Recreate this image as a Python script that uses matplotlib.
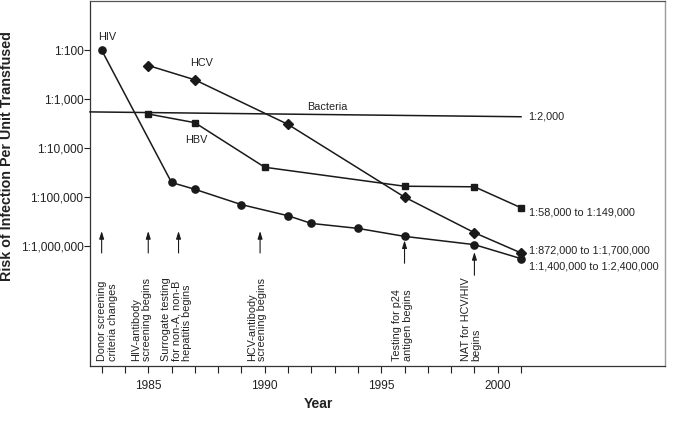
import numpy as np
import matplotlib
matplotlib.use("Agg")
import matplotlib.pyplot as plt
import matplotlib.transforms as mtransforms

plt.rcParams['font.family'] = ['Liberation Sans', 'DejaVu Sans']

# ---- data (denominator N of risk 1:N) ----
hiv_years = [1983, 1986, 1987, 1989, 1991, 1992, 1994, 1996, 1999, 2001]
hiv_risk = [100, 50800, 70000, 144000, 243000, 349000, 441000, 642000, 948000, 1830000]

hcv_years = [1985, 1987, 1991, 1996, 1999, 2001]
hcv_risk = [206, 404, 3300, 101000, 540000, 1400000]

hbv_years = [1985, 1987, 1990, 1996, 1999, 2001]
hbv_risk = [2020, 3040, 24800, 60600, 62200, 167000]

bact_years = [1982.5, 2001]
bact_risk = [1830, 2300]

ytick_vals = [100, 1000, 10000, 100000, 1000000]
ytick_labels = ['1:100', '1:1,000', '1:10,000', '1:100,000', '1:1,000,000']
xtick_years = list(range(1983, 2002))
xtick_labeled = [1985, 1990, 1995, 2000]

event_years = [1983, 1985, 1986.3, 1989.8, 1996, 1999]
event_labels = ['Donor screening\ncriteria changes',
                'HIV-antibody\nscreening begins',
                'Surrogate testing\nfor non-A, non-B\nhepatitis begins',
                'HCV-antibody\nscreening begins',
                'Testing for p24\nantigen begins',
                'NAT for HCV/HIV\nbegins']

end_labels = {'bact': '1:2,000',
              'hbv': '1:58,000 to 1:149,000',
              'hcv': '1:872,000 to 1:1,700,000',
              'hiv': '1:1,400,000 to 1:2,400,000'}

# ---- figure ----
fig = plt.figure(figsize=(6.74, 4.28), dpi=100)
ax = fig.add_axes([90/674, 62/428, 575/674, 365/428])

lc = '#1a1a1a'
lw = 1.1
ax.plot(hiv_years, hiv_risk, '-o', color=lc, lw=lw, ms=5.2, zorder=3)
ax.plot(hcv_years, hcv_risk, '-D', color=lc, lw=lw, ms=4.6, zorder=3)
ax.plot(hbv_years, hbv_risk, '-s', color=lc, lw=lw, ms=4.6, zorder=3)
ax.plot(bact_years, bact_risk, '-', color=lc, lw=lw, zorder=3, clip_on=False)

ax.set_yscale('log')
ax.set_ylim(10**8.458, 10**0.995)
ax.set_xlim(1982.5, 2007.18)
ax.set_yticks(ytick_vals)
ax.set_yticklabels(ytick_labels)
ax.yaxis.set_minor_locator(matplotlib.ticker.NullLocator())
ax.set_xticks(xtick_years)
ax.set_xticklabels([str(y) if y in xtick_labeled else '' for y in xtick_years])

tc = '#222222'
ax.tick_params(axis='y', direction='out', length=4.3, width=0.8, pad=0.5,
               labelsize=8.6, colors=tc)
ax.tick_params(axis='x', direction='out', length=5, width=0.8, pad=5,
               labelsize=8.6, colors=tc)

for s in ['left', 'bottom']:
    ax.spines[s].set_color('#333333')
    ax.spines[s].set_linewidth(0.9)
ax.spines['top'].set_color('#555555')
ax.spines['top'].set_linewidth(0.9)
ax.spines['right'].set_color('#9a9a9a')
ax.spines['right'].set_linewidth(1.0)

ax.set_xlabel('Year', fontsize=10, fontweight='bold', color=tc, va='center')
ax.xaxis.set_label_coords(0.3965, -0.104)
ax.set_ylabel('Risk of Infection Per Unit Transfused', fontsize=10.3,
              fontweight='bold', color=tc, va='center')
ax.yaxis.set_label_coords(-0.1449, 0.574)

# series names
fs_name = 7.8
ax.text(1983.24, 10**1.723, 'HIV', fontsize=fs_name, ha='center', va='center', color=tc)
ax.text(1987.30, 10**2.253, 'HCV', fontsize=fs_name, ha='center', va='center', color=tc)
ax.text(1987.08, 10**3.83, 'HBV', fontsize=fs_name, ha='center', va='center', color=tc)
ax.text(1992.70, 10**3.157, 'Bacteria', fontsize=fs_name, ha='center', va='center', color=tc)

# end labels
fs_end = 7.8
ax.annotate(end_labels['bact'], (bact_years[-1], bact_risk[-1]), xytext=(5, 0),
            textcoords='offset points', fontsize=fs_end, va='center', color=tc)
ax.annotate(end_labels['hbv'], (hbv_years[-1], hbv_risk[-1]), xytext=(6, -3.4),
            textcoords='offset points', fontsize=fs_end, va='center', color=tc)
ax.annotate(end_labels['hcv'], (hcv_years[-1], hcv_risk[-1]), xytext=(6, 2),
            textcoords='offset points', fontsize=fs_end, va='center', color=tc)
ax.annotate(end_labels['hiv'], (hiv_years[-1], hiv_risk[-1]), xytext=(6, -6),
            textcoords='offset points', fontsize=fs_end, va='center', color=tc)

# event arrows and labels
trans = mtransforms.blended_transform_factory(ax.transData, ax.transAxes)
arrow_spans = [(0.3096, 0.3697)] * 4 + [(0.2814, 0.3443), (0.2486, 0.3123)]
text_x = [1983.25, 1984.72, 1986.21, 1989.67, 1995.92, 1998.86]
for yr, (y0, y1), tx, lab in zip(event_years, arrow_spans, text_x, event_labels):
    ax.annotate('', xy=(yr, y1), xytext=(yr, y0), xycoords=trans, textcoords=trans,
                arrowprops=dict(arrowstyle='-|>,head_length=0.45,head_width=0.14',
                                color=lc, lw=0.8, shrinkA=0, shrinkB=0))
    ax.text(tx, 0.0145, lab, transform=trans, rotation=90, ha='center', va='bottom',
            multialignment='left', fontsize=7.8, linespacing=1.05, color=tc)

fig.savefig('out.png', dpi=100)
